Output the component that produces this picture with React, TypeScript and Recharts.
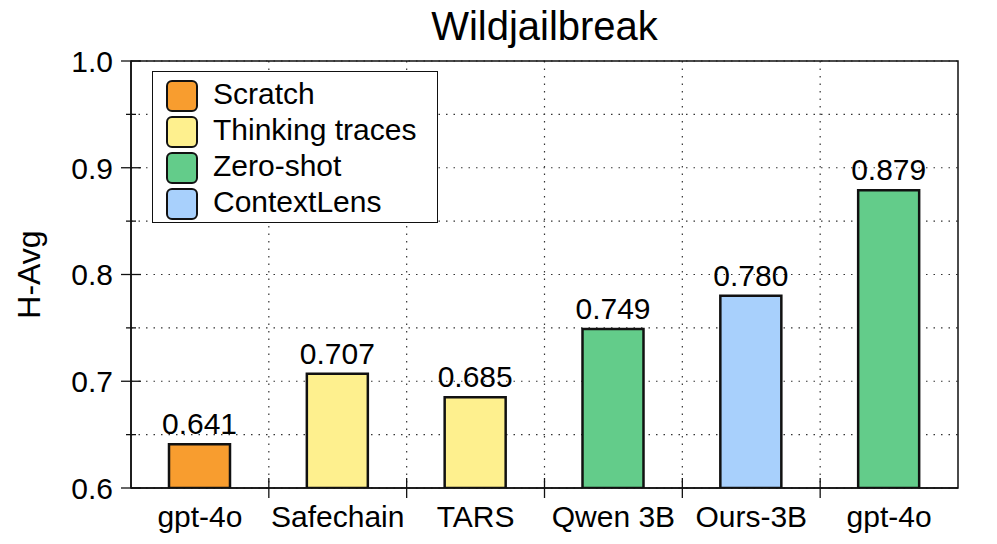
import React from "react";
import {
  BarChart,
  Bar,
  Cell,
  XAxis,
  YAxis,
  CartesianGrid,
  LabelList,
  Legend,
  ReferenceArea,
  Label,
} from "recharts";

const categories = ["gpt-4o", "Safechain", "TARS", "Qwen 3B", "Ours-3B", "gpt-4o"];
const values = [0.641, 0.707, 0.685, 0.749, 0.78, 0.879];
const groups = ["Scratch", "Thinking traces", "Thinking traces", "Zero-shot", "ContextLens", "Zero-shot"];

const legendNames = ["Scratch", "Thinking traces", "Zero-shot", "ContextLens"];
const legendColors = ["#F89D2F", "#FEF08E", "#63CC8A", "#A8D0FC"];

const yTicks = [0.6, 0.65, 0.7, 0.75, 0.8, 0.85, 0.9, 0.95, 1.0];
const majorTicks = [0.6, 0.7, 0.8, 0.9, 1.0];

const W = 997;
const H = 544;
const MARGIN = { top: 61, right: 39, bottom: 16, left: 0 };
const Y_AXIS_W = 131;
const X_AXIS_H = 40;
const PLOT_W = W - MARGIN.left - MARGIN.right - Y_AXIS_W;
const FONT = "'Liberation Sans', Arial, Helvetica, sans-serif";
const INK = "#111";

const data = categories.map((name, i) => ({
  name,
  value: values[i],
  color: legendColors[legendNames.indexOf(groups[i])],
}));

function YTick(props: any) {
  const { x, y, payload } = props;
  const v = payload.value;
  const major = majorTicks.some((m) => Math.abs(m - v) < 1e-6);
  return (
    <g>
      <line
        x1={major ? x - 10 : x - 5}
        x2={major ? x + 10 : x + 5}
        y1={y}
        y2={y}
        stroke={INK}
        strokeWidth={1.3}
      />
      {major && (
        <text
          x={x - 18}
          y={y}
          dy="0.36em"
          textAnchor="end"
          fontSize={30}
          fontFamily={FONT}
          fill="#000"
        >
          {v.toFixed(1)}
        </text>
      )}
    </g>
  );
}

function XTick(props: any) {
  const { x, y, payload, index } = props;
  const half = PLOT_W / categories.length / 2;
  return (
    <g>
      {index < categories.length - 1 && (
        <line x1={x + half} x2={x + half} y1={y - 10} y2={y + 10} stroke={INK} strokeWidth={1.3} />
      )}
      <text x={x} y={y + 39} textAnchor="middle" fontSize={30} fontFamily={FONT} fill="#000">
        {payload.value}
      </text>
    </g>
  );
}

function LegendBox() {
  return (
    <div
      style={{
        width: 286,
        height: 152,
        boxSizing: "border-box",
        border: `1.5px solid ${INK}`,
        background: "#fff",
        padding: "6px 0 0 13px",
        fontFamily: FONT,
      }}
    >
      {legendNames.map((n, i) => (
        <div key={n} style={{ display: "flex", alignItems: "center", height: 36 }}>
          <div
            style={{
              width: 32,
              height: 32,
              boxSizing: "border-box",
              border: "2.5px solid #111",
              borderRadius: 6,
              background: legendColors[i],
              marginRight: 15,
            }}
          />
          <span
            style={{
              fontSize: 30,
              color: "#000",
              lineHeight: "32px",
              position: "relative",
              top: -2,
              whiteSpace: "nowrap",
            }}
          >
            {n}
          </span>
        </div>
      ))}
    </div>
  );
}

export default function App() {
  return (
    <div
      style={{
        position: "absolute",
        left: 0,
        top: 0,
        width: W,
        height: H,
        background: "#fff",
        fontFamily: FONT,
      }}
    >
      <div
        style={{
          position: "absolute",
          left: Y_AXIS_W,
          width: PLOT_W,
          top: 6,
          textAlign: "center",
          fontSize: 40,
          lineHeight: 1,
          color: "#000",
        }}
      >
        Wildjailbreak
      </div>
      <BarChart width={W} height={H} data={data} margin={MARGIN}>
        <CartesianGrid
          stroke="#333"
          strokeWidth={1.2}
          strokeDasharray="1.5 6"
          verticalCoordinatesGenerator={({ offset }: any) =>
            categories.slice(1).map((_, i) => offset.left + ((i + 1) * offset.width) / categories.length)
          }
        />
        <ReferenceArea y1={0.6} y2={1.0} fill="none" stroke={INK} strokeWidth={1.5} ifOverflow="visible" />
        <XAxis
          dataKey="name"
          height={X_AXIS_H}
          tickSize={0}
          tickMargin={0}
          tickLine={false}
          axisLine={{ stroke: INK, strokeWidth: 1.5 }}
          tick={<XTick />}
          interval={0}
        />
        <YAxis
          width={Y_AXIS_W}
          domain={[0.6, 1.0]}
          ticks={yTicks}
          allowDataOverflow
          tickSize={0}
          tickMargin={0}
          tickLine={false}
          axisLine={{ stroke: INK, strokeWidth: 1.5 }}
          tick={<YTick />}
          interval={0}
        >
          <Label
            content={({ viewBox }: any) => (
              <text
                x={viewBox.x + 40}
                y={viewBox.y + viewBox.height / 2}
                transform={`rotate(-90 ${viewBox.x + 40} ${viewBox.y + viewBox.height / 2})`}
                textAnchor="middle"
                fontSize={32}
                fontFamily={FONT}
                fill="#000"
              >
                H-Avg
              </text>
            )}
          />
        </YAxis>
        <Legend
          layout="vertical"
          align="center"
          verticalAlign="middle"
          wrapperStyle={{ left: 152, top: 71, width: 286, height: 152 }}
          content={() => <LegendBox />}
        />
        <Bar dataKey="value" barSize={61} stroke={INK} strokeWidth={2.5} isAnimationActive={false}>
          {data.map((d, i) => (
            <Cell key={`cell-${i}`} fill={d.color} />
          ))}
          <LabelList
            dataKey="value"
            position="top"
            offset={10}
            fontSize={30}
            fontFamily={FONT}
            fill="#000"
            formatter={(v: any) => Number(v).toFixed(3)}
          />
        </Bar>
      </BarChart>
    </div>
  );
}
